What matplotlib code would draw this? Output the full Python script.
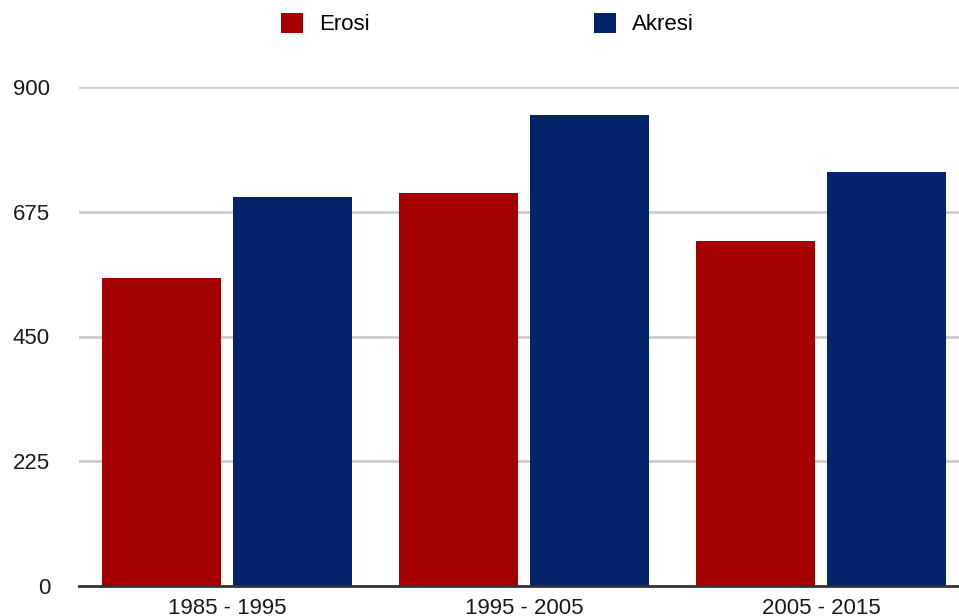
import matplotlib
matplotlib.use('Agg')
import matplotlib.pyplot as plt
import numpy as np

periods = ["1985 - 1995", "1995 - 2005", "2005 - 2015"]
erosi = [555, 708, 623]
akresi = [702, 850, 747]
yticks = [0, 225, 450, 675, 900]

c_erosi = '#A40000'
c_akresi = '#03246A'
fs = 16

fig = plt.figure(figsize=(9.59, 6.16), dpi=100)
fig.patch.set_facecolor('white')
# plot area runs slightly past the right edge of the figure (cropped like the original)
ax = fig.add_axes([78.5 / 959, 30 / 616, 891 / 959, 499 / 616])

x = np.arange(len(periods))
ax.bar(x - 0.22, erosi, width=0.40, color=c_erosi, label='Erosi', zorder=3)
ax.bar(x + 0.22, akresi, width=0.40, color=c_akresi, label='Akresi', zorder=3)

ax.set_xlim(-0.5, 2.5)
ax.set_ylim(0, 900)
ax.set_yticks(yticks)
ax.set_yticklabels([str(v) for v in yticks], fontsize=fs, color='#1a1a1a',
                   family='Liberation Sans')
ax.set_xticks(x)
ax.set_xticklabels(periods, fontsize=fs, color='#1a1a1a', family='Liberation Sans')
ax.tick_params(axis='both', length=0)
ax.tick_params(axis='y', pad=20.5)
ax.tick_params(axis='x', pad=9)

ax.grid(True, axis='y', color='#CCCCCC', linewidth=2, zorder=0)
ax.set_axisbelow(True)
for s in ['top', 'right', 'left']:
    ax.spines[s].set_visible(False)
ax.spines['bottom'].set_color('#333333')
ax.spines['bottom'].set_linewidth(2)
ax.spines['bottom'].set_zorder(4)

# legend items laid out across the top
fig.legend(handles=ax.get_legend_handles_labels()[0], labels=['Erosi', 'Akresi'],
           loc='center', bbox_to_anchor=(487.5 / 959, 1 - 24 / 616), ncol=2,
           frameon=False, handlelength=1.0, handleheight=1.0, handletextpad=0.72,
           columnspacing=10.1, prop={'family': 'Liberation Sans', 'size': fs})

fig.savefig('out.png', dpi=100)
